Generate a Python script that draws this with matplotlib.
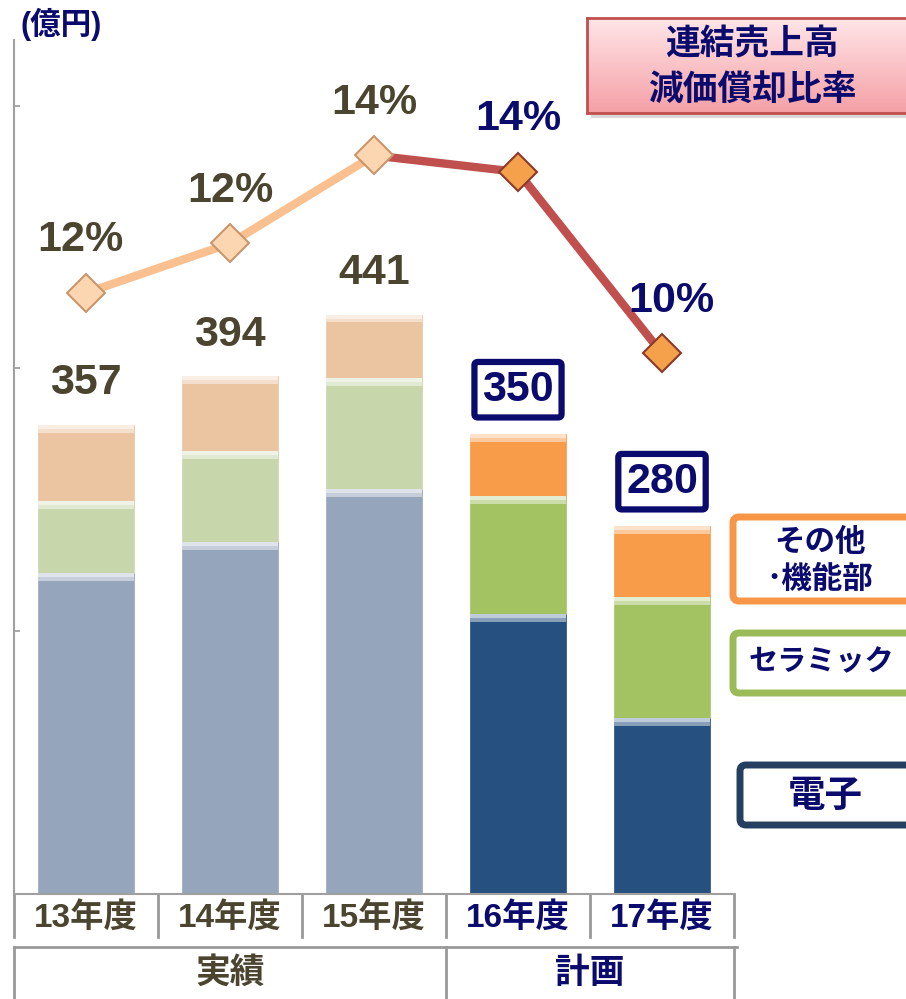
# 連結 減価償却費の推移（セグメント別）と売上高減価償却比率
import numpy as np
import matplotlib.pyplot as plt
from matplotlib.patches import FancyBboxPatch, Rectangle

plt.rcParams['font.family'] = ['Liberation Sans', 'Noto Sans CJK JP', 'DejaVu Sans']

years = ['13年度', '14年度', '15年度', '16年度', '17年度']
denshi = [244, 268, 308, 213, 134]
ceramic = [55, 69, 85, 90, 92]
sonota = [58, 57, 48, 47, 54]
totals = [357, 394, 441, 350, 280]
ratio = [11.5, 12.4, 14.0, 13.7, 10.4]
ratio_labels = ['12%', '12%', '14%', '14%', '10%']
groups = ['実績', '計画']

OLIVE = '#4b4530'
NAVY = '#0b0b6e'
actual = [True, True, True, False, False]

col_past = ['#95a6bc', '#c7d7ab', '#ebc5a2']
col_plan = ['#26507f', '#a3c262', '#f89c4a']

W, H = 906, 999
fig = plt.figure(figsize=(W / 100, H / 100), dpi=100)
ax = fig.add_axes([14 / W, (H - 894) / H, 720 / W, 854 / H])

x = np.arange(len(years))


def lighten(c, f):
    r, g, b = plt.matplotlib.colors.to_rgb(c)
    return (r + (1 - r) * f, g + (1 - g) * f, b + (1 - b) * f)


bottom = np.zeros(len(years))
for k, seg in enumerate([denshi, ceramic, sonota]):
    cols = [col_past[k] if a else col_plan[k] for a in actual]
    seg = np.array(seg, dtype=float)
    ax.bar(x, seg, 0.67, bottom=bottom, color=cols, edgecolor=cols,
           linewidth=0.5, zorder=2)
    # bevel highlight at the top of each block
    ax.bar(x, 6, 0.67, bottom=bottom + seg - 6,
           color=[lighten(c, 0.45) for c in cols], linewidth=0, zorder=3)
    ax.bar(x, 3, 0.67, bottom=bottom + seg - 3,
           color=[lighten(c, 0.7) for c in cols], linewidth=0, zorder=3)
    bottom += seg

ax.set_xlim(-0.5, 4.5)
ax.set_ylim(0, 650)
ax.set_yticks([0, 200, 400, 600])
ax.set_yticklabels([])
ax.set_xticks([])
ax.tick_params(axis='y', direction='in', length=4, width=1.2, color='#999999')
for s in ['top', 'right']:
    ax.spines[s].set_visible(False)
ax.spines['left'].set_color('#a0a0a0')
ax.spines['left'].set_linewidth(1.5)
ax.spines['bottom'].set_color('#a0a0a0')
ax.spines['bottom'].set_linewidth(1.5)

# total labels
for i in range(len(years)):
    if actual[i]:
        ax.annotate(str(totals[i]), (x[i], totals[i]), xytext=(0, 30),
                    textcoords='offset points', ha='center', va='center',
                    fontsize=31, fontweight='bold', color=OLIVE, zorder=5)
    else:
        ax.annotate(str(totals[i]), (x[i], totals[i]), xytext=(0, 32),
                    textcoords='offset points', ha='center', va='center',
                    fontsize=31, fontweight='bold', color=NAVY, zorder=5,
                    bbox=dict(boxstyle='round,pad=0.18,rounding_size=0.08',
                              fc='white', ec=NAVY, lw=4.5))

# category table below the axis
tr = ax.get_xaxis_transform()
r1 = -(937 - 894) / 854
r2 = -(947 - 894) / 854
r3 = -(1010 - 894) / 854
for b in np.arange(-0.5, 5, 1):
    ax.plot([b, b], [0, r1], transform=tr, color='#999999', lw=2, clip_on=False)
for b in [-0.5, 2.5, 4.5]:
    ax.plot([b, b], [r2, r3], transform=tr, color='#999999', lw=2, clip_on=False)
ax.plot([-0.5, 4.52], [r2, r2], transform=tr, color='#999999', lw=2, clip_on=False)
for i, y in enumerate(years):
    ax.text(x[i], -(918 - 894) / 854, y, transform=tr, ha='center', va='center',
            fontsize=24, fontweight='bold', color=OLIVE if actual[i] else NAVY)
ax.text(1, -(973 - 894) / 854, groups[0], transform=tr, ha='center', va='center',
        fontsize=25, fontweight='bold', color=OLIVE)
ax.text(3.5, -(973 - 894) / 854, groups[1], transform=tr, ha='center', va='center',
        fontsize=25, fontweight='bold', color=NAVY)

# ratio line on secondary axis
ax2 = ax.twinx()
ax2.set_ylim(0.57, 16.1)
ax2.axis('off')
ax2.plot(x[:3], ratio[:3], color='#fac090', lw=6, zorder=3, solid_capstyle='butt')
ax2.plot(x[2:], ratio[2:], color='#c0504d', lw=6, zorder=3, solid_capstyle='butt')
ax2.plot(x[:3], ratio[:3], 'D', ms=19, mfc='#fcd6b0', mec='#c8966c', mew=1.5,
         ls='none', zorder=4)
ax2.plot(x[3:], ratio[3:], 'D', ms=19, mfc='#f5a04a', mec='#8b3a2a', mew=1.5,
         ls='none', zorder=4)
dx = [-4, 0, 0, 0, 7]
for i in range(len(years)):
    ax2.annotate(ratio_labels[i], (x[i], ratio[i]), xytext=(dx[i], 38),
                 textcoords='offset points', ha='center', va='center',
                 fontsize=31, fontweight='bold',
                 color=OLIVE if actual[i] else NAVY, zorder=5)


def px(xp, yp):
    return (xp / 100, (H - yp) / 100)


# unit label
fig.text(20 / W, (H - 24) / H, '(億円)', ha='left', va='center',
         fontsize=22, fontweight='bold', color=NAVY)

# title box with gradient and soft shadow
sh = Rectangle(px(591, 118), 330 / 100, 95 / 100, transform=fig.dpi_scale_trans,
               fc='#c8c8c8', ec='none', alpha=0.7, zorder=1)
fig.patches.append(sh)
tax = fig.add_axes([587 / W, (H - 113) / H, 330 / W, 95 / H])
tax.set_zorder(2)
grad = np.linspace(0, 1, 100).reshape(-1, 1)
tax.imshow(grad, aspect='auto', cmap=plt.matplotlib.colors.LinearSegmentedColormap.from_list(
    'pk', ['#ffe6e8', '#f4a0a6']), extent=[0, 1, 0, 1], origin='upper')
tax.set_xticks([])
tax.set_yticks([])
for s in tax.spines.values():
    s.set_color('#c0504d')
    s.set_linewidth(2)
tax.text(0.5, 1 - 27 / 95, '連結売上高', transform=tax.transAxes, ha='center',
         va='center', fontsize=25, fontweight='bold', color=NAVY)
tax.text(0.5, 1 - 72 / 95, '減価償却比率', transform=tax.transAxes, ha='center',
         va='center', fontsize=25, fontweight='bold', color=NAVY)

# legend boxes
legend = [
    (733, 517, 84, '#f79646'),
    (733, 633, 60, '#9bbb59'),
    (740, 765, 60, '#243f60'),
]
for lx, ly, lh, lc in legend:
    p = FancyBboxPatch(px(lx, ly + lh), 200 / 100, lh / 100,
                       boxstyle='round,pad=0,rounding_size=0.06',
                       transform=fig.dpi_scale_trans, fc='white', ec=lc, lw=5)
    fig.patches.append(p)

fig.text(820 / W, (H - 543) / H, 'その他', ha='center', va='center',
         fontsize=22, fontweight='bold', color=NAVY)
fig.text(820 / W, (H - 580) / H, '･機能部', ha='center', va='center',
         fontsize=22, fontweight='bold', color=NAVY)
fig.text(821 / W, (H - 662) / H, 'セラミック', ha='center', va='center',
         fontsize=21, fontweight='bold', color=NAVY)
fig.text(825 / W, (H - 797) / H, '電子', ha='center', va='center',
         fontsize=27, fontweight='bold', color=NAVY)

plt.savefig('out.png', dpi=100)
